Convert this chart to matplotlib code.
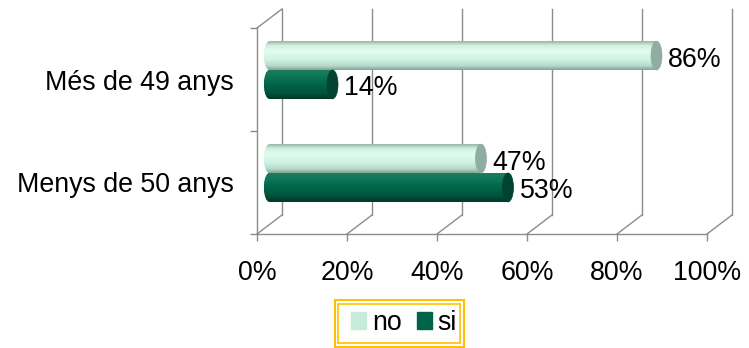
import numpy as np
import matplotlib
matplotlib.use("Agg")
import matplotlib.pyplot as plt
from matplotlib.colors import LinearSegmentedColormap
from matplotlib.patches import Ellipse, Rectangle, Patch

plt.rcParams['font.family'] = ['Liberation Sans', 'DejaVu Sans']

# Dades
categories = ["Menys de 50 anys", "Més de 49 anys"]
valors_no = [47, 86]
valors_si = [53, 14]
series = ["no", "si"]
ticks_x = [0, 20, 40, 60, 80, 100]
etiquetes_x = ["0%", "20%", "40%", "60%", "80%", "100%"]

W, H = 749, 348
fig = plt.figure(figsize=(W / 100, H / 100), dpi=100)

# eixos = pla frontal del gràfic 3D
x0, x1, yb, yt = 257, 707, 234, 28
ax = fig.add_axes([x0 / W, (H - yb) / H, (x1 - x0) / W, (yb - yt) / H])
ax.set_xlim(0, 100)
ax.set_ylim(0, 2)

px_x = 100 / (x1 - x0)          # unitats de dades per píxel
px_y = 2 / (yb - yt)
ddx, ddy = 25 * px_x, 19 * px_y  # profunditat
gris = '#8c8c8c'

for s in ['top', 'right']:
    ax.spines[s].set_visible(False)
for s in ['bottom', 'left']:
    ax.spines[s].set_color(gris)
    ax.spines[s].set_linewidth(1.0)

ax.set_xticks(ticks_x)
ax.set_xticklabels(etiquetes_x, fontsize=19.3)
ax.tick_params(axis='x', length=5, width=1, color=gris, pad=14)
ax.set_yticks([0, 1, 2])
ax.set_yticklabels([])
ax.tick_params(axis='y', which='major', length=5, width=1, color=gris)
pos = [0.5, 1.5]
ax.set_yticks(pos, minor=True)
ax.set_yticklabels(categories, minor=True, fontsize=19.3)
ax.tick_params(axis='y', which='minor', length=0, pad=17)

# parets del fons i terra
for x in ticks_x:
    ax.plot([x + ddx, x + ddx], [ddy, 2 + ddy], color=gris, lw=1.0, clip_on=False)
    ax.plot([x, x + ddx], [0, ddy], color=gris, lw=1.0, clip_on=False)
ax.plot([0, ddx], [2, 2 + ddy], color=gris, lw=1.0, clip_on=False)

# barres cilíndriques
h = 0.28
sx, sy = ddx / 2, ddy / 2
capw = 11 * px_x
cmap_no = LinearSegmentedColormap.from_list('no', [
    (0.0, '#94b4a4'), (0.15, '#d0f0e1'), (0.35, '#e2fcf0'),
    (0.65, '#cdf2e1'), (0.85, '#b6dbca'), (1.0, '#82a393')])
cmap_si = LinearSegmentedColormap.from_list('si', [
    (0.0, '#1f7d5f'), (0.2, '#0e7757'), (0.5, '#00654a'),
    (0.8, '#00523b'), (1.0, '#003827')])
grad = np.linspace(0, 1, 256).reshape(-1, 1)

specs = [(valors_no, +h / 2, cmap_no, '#8fae9f', '#c6ebda'),
         (valors_si, -h / 2, cmap_si, '#00432f', '#006548')]
for vals, off, cmap, capc, midc in specs:
    ys = [p + sy + off for p in pos]
    bars = ax.barh(ys, vals, left=sx, height=h, color=midc, linewidth=0, zorder=2)
    for b, v, y in zip(bars, vals, ys):
        im = ax.imshow(grad, cmap=cmap, aspect='auto', zorder=3,
                       extent=[sx, sx + v, y - h / 2, y + h / 2])
        im.set_clip_path(b)
        el = Ellipse((sx, y), capw, h, color=midc, zorder=2, lw=0)
        ax.add_patch(el)
        im2 = ax.imshow(grad, cmap=cmap, aspect='auto', zorder=3,
                        extent=[sx - capw, sx, y - h / 2, y + h / 2])
        im2.set_clip_path(el)
        ax.add_patch(Ellipse((sx + v, y), capw, h, facecolor=capc,
                             edgecolor=capc, lw=0.5, zorder=4))
        ax.text(sx + v + capw / 2 + 6 * px_x, y - 4 * px_y, f"{v}%",
                fontsize=19.3, va='center', ha='left', zorder=5)

ax.set_xlim(0, 100)
ax.set_ylim(0, 2)

# llegenda amb doble vora
or_ = Rectangle((334.5 / W, (H - 346.5) / H), 129 / W, 47 / H, transform=fig.transFigure,
                fill=False, edgecolor='#ffc000', lw=1.5)
ir_ = Rectangle((338 / W, (H - 343) / H), 122 / W, 39 / H, transform=fig.transFigure,
                fill=False, edgecolor='#ffc000', lw=1.2)
fig.patches.extend([or_, ir_])
handles = [Patch(color='#c6ebda'), Patch(color='#006548')]
fig.legend(handles, series, loc='center', bbox_to_anchor=(404 / W, (H - 323) / H),
           ncol=2, frameon=False, fontsize=19.3, handlelength=0.55, handleheight=0.55,
           handletextpad=0.23, columnspacing=0.57, borderpad=0, borderaxespad=0)

fig.savefig('out.png', dpi=100)
